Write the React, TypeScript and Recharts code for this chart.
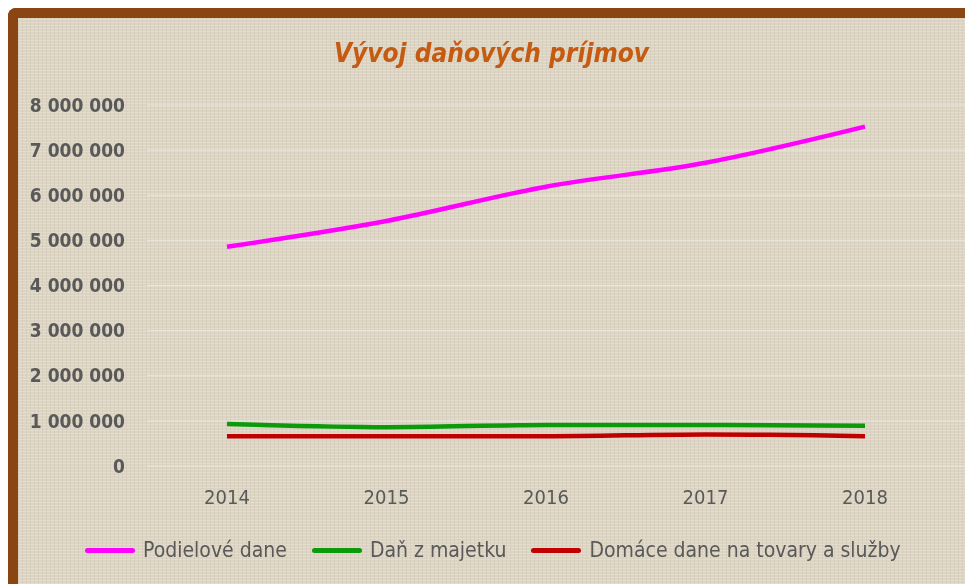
import { LineChart, Line, XAxis, YAxis, CartesianGrid, Legend } from 'recharts'

const years = ['2014', '2015', '2016', '2017', '2018']
const podieloveDane = [4860000, 5430000, 6190000, 6720000, 7520000]
const danZMajetku = [930000, 860000, 910000, 910000, 890000]
const domaceDane = [660000, 660000, 660000, 700000, 660000]
const yTicks = [0, 1000000, 2000000, 3000000, 4000000, 5000000, 6000000, 7000000, 8000000]

const series = [
  { key: 'podielove', name: 'Podielové dane', color: '#ff00ff' },
  { key: 'majetok', name: 'Daň z majetku', color: '#0a9a0a' },
  { key: 'domace', name: 'Domáce dane na tovary a služby', color: '#c00000' },
]

const data = years.map((year, i) => ({
  year,
  podielove: podieloveDane[i],
  majetok: danZMajetku[i],
  domace: domaceDane[i],
}))

const FONT = '"Liberation Sans Narrow", "DejaVu Sans Condensed", Lato, sans-serif'

// thousands with a space, e.g. 8 000 000
function formatNumber(v: number): string {
  return String(v).replace(/\B(?=(\d{3})+(?!\d))/g, ' ')
}

function LegendContent() {
  return (
    <div style={{ display: 'flex', alignItems: 'center', marginLeft: 67, fontFamily: FONT, fontSize: 21, color: '#595959' }}>
      {series.map((s) => (
        <div key={s.key} style={{ display: 'flex', alignItems: 'center', marginRight: 25 }}>
          <span style={{ display: 'inline-block', width: 50, height: 5, borderRadius: 3, background: s.color, marginRight: 8 }} />
          <span>{s.name}</span>
        </div>
      ))}
    </div>
  )
}

export default function App() {
  return (
    <div
      style={{
        position: 'fixed',
        top: 8,
        left: 8,
        width: 957,
        height: 576,
        borderTop: '10px solid #8b4513',
        borderLeft: '10px solid #8b4513',
        borderTopLeftRadius: 8,
        boxSizing: 'border-box',
        overflow: 'hidden',
        backgroundColor: '#ddd5c4',
        backgroundImage:
          'repeating-linear-gradient(0deg, rgba(255,255,255,0.18) 0 1px, transparent 1px 3px), repeating-linear-gradient(90deg, rgba(120,100,70,0.08) 0 1px, transparent 1px 4px)',
      }}
    >
      <div
        style={{
          position: 'absolute',
          top: 20,
          left: 0,
          width: 947,
          textAlign: 'center',
          fontFamily: FONT,
          fontSize: 26,
          fontWeight: 'bold',
          fontStyle: 'italic',
          color: '#c55a11',
        }}
      >
        Vývoj daňových príjmov
      </div>
      <LineChart width={947} height={566} data={data} margin={{ top: 87, right: 0, left: 0, bottom: 34 }}>
        <CartesianGrid vertical={false} stroke="rgba(255,255,255,0.45)" />
        <XAxis
          dataKey="year"
          axisLine={false}
          tickLine={false}
          tickSize={0}
          tickMargin={24}
          height={60}
          padding={{ left: 80, right: 100 }}
          tick={{ fill: '#595959', fontSize: 20, fontFamily: FONT }}
        />
        <YAxis
          width={129}
          domain={[0, 8000000]}
          ticks={yTicks}
          axisLine={false}
          tickLine={false}
          tickSize={0}
          tickMargin={22}
          tickFormatter={formatNumber}
          tick={{ fill: '#595959', fontSize: 19, fontWeight: 'bold', fontFamily: FONT }}
        />
        <Legend verticalAlign="bottom" content={<LegendContent />} wrapperStyle={{ bottom: 22 }} />
        {series.map((s) => (
          <Line
            key={s.key}
            type="monotone"
            dataKey={s.key}
            name={s.name}
            stroke={s.color}
            strokeWidth={4.5}
            dot={false}
            isAnimationActive={false}
          />
        ))}
      </LineChart>
    </div>
  )
}
